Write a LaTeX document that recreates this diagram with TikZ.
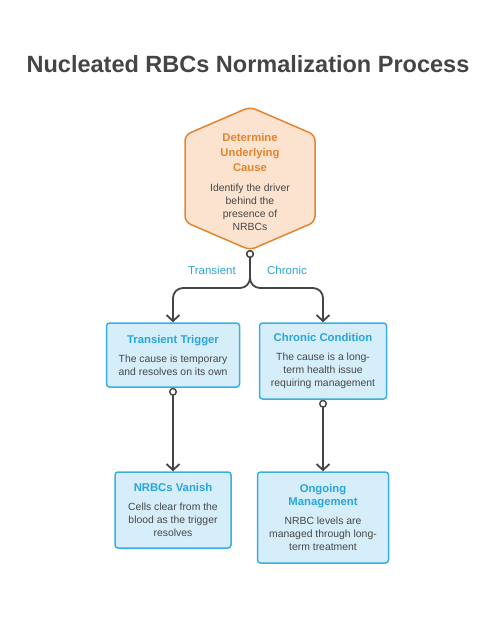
\documentclass[tikz,border=0pt]{standalone}
\usepackage{fontspec}
\setmainfont{Liberation Sans}
\usetikzlibrary{arrows.meta}
\usetikzlibrary{positioning}

\definecolor{darkline}{HTML}{454545}
\definecolor{bodygray}{HTML}{474747}
\definecolor{hexorange}{HTML}{E3852F}
\definecolor{hexfill}{HTML}{FBE3D0}
\definecolor{boxblue}{HTML}{3AAFE1}
\definecolor{boxfill}{HTML}{D5EEF9}
\definecolor{titleblue}{HTML}{2AA5DC}

\tikzset{
  stepbox/.style={draw=boxblue, fill=boxfill, line width=1.5pt, rounded corners=3pt,
    align=center, text=bodygray, font=\fontsize{10.4}{13}\selectfont, inner sep=0pt},
  link/.style={draw=darkline, line width=1.8pt, rounded corners=10pt,
    {Circle[fill=white,length=8pt,width=8pt,line width=1.4pt]}-{Straight Barb[length=6pt,width=13pt]}},
  branch/.style={text=titleblue, font=\fontsize{11.5}{13}\selectfont}
}
\newcommand{\boxhead}[1]{{\fontsize{11.3}{15}\selectfont\bfseries\color{titleblue}#1}}
\newcommand{\hexhead}[1]{{\fontsize{11.3}{15}\selectfont\bfseries\color{hexorange}#1}}

\begin{document}
\begin{tikzpicture}[x=1pt, y=-1pt]
  \useasboundingbox (0,0) rectangle (496,617);
  \node [text=darkline, font=\fontsize{23.5}{28}\selectfont\bfseries] (title) at (248,64) {Nucleated RBCs Normalization Process};

  \draw [draw=hexorange, fill=hexfill, line width=1.5pt, rounded corners=6pt]
    (250,107) -- (315,135) -- (315,222) -- (250,250) -- (185,222) -- (185,135) -- cycle;
  \coordinate (hexbot) at (250,250);
  \node [align=center, text=bodygray, font=\fontsize{10.4}{13}\selectfont] (cause) at (250,182)
    {\hexhead{Determine}\\[2pt]\hexhead{Underlying}\\[2pt]\hexhead{Cause}\\[7pt]
     Identify the driver\\behind the\\presence of\\NRBCs};

  \node [stepbox, minimum width=133pt, minimum height=64pt] (trans) at (173,355)
    {\boxhead{Transient Trigger}\\[6pt]The cause is temporary\\and resolves on its own};
  \node [stepbox, minimum width=127pt, minimum height=76pt] (chron) at (323,361)
    {\boxhead{Chronic Condition}\\[6pt]The cause is a long-\\term health issue\\requiring management};
  \node [stepbox, minimum width=116pt, minimum height=76pt] (vanish) at (173,510)
    {\boxhead{NRBCs Vanish}\\[6pt]Cells clear from the\\blood as the trigger\\resolves};
  \node [stepbox, minimum width=131pt, minimum height=91pt] (manage) at (323,517.5)
    {\boxhead{Ongoing}\\\boxhead{Management}\\[6pt]NRBC levels are\\managed through long-\\term treatment};

  \coordinate (split) at (250,288);
  \draw [link] (hexbot) -- (split) -| (trans.north);
  \draw [link] (hexbot) -- (split) -| (chron.north);
  \draw [link] (trans.south) -- (vanish.north);
  \draw [link] (chron.south) -- (manage.north);

  \node [branch] (lbltrans) at (212,270) {Transient};
  \node [branch] (lblchron) at (287,270) {Chronic};
\end{tikzpicture}
\end{document}
